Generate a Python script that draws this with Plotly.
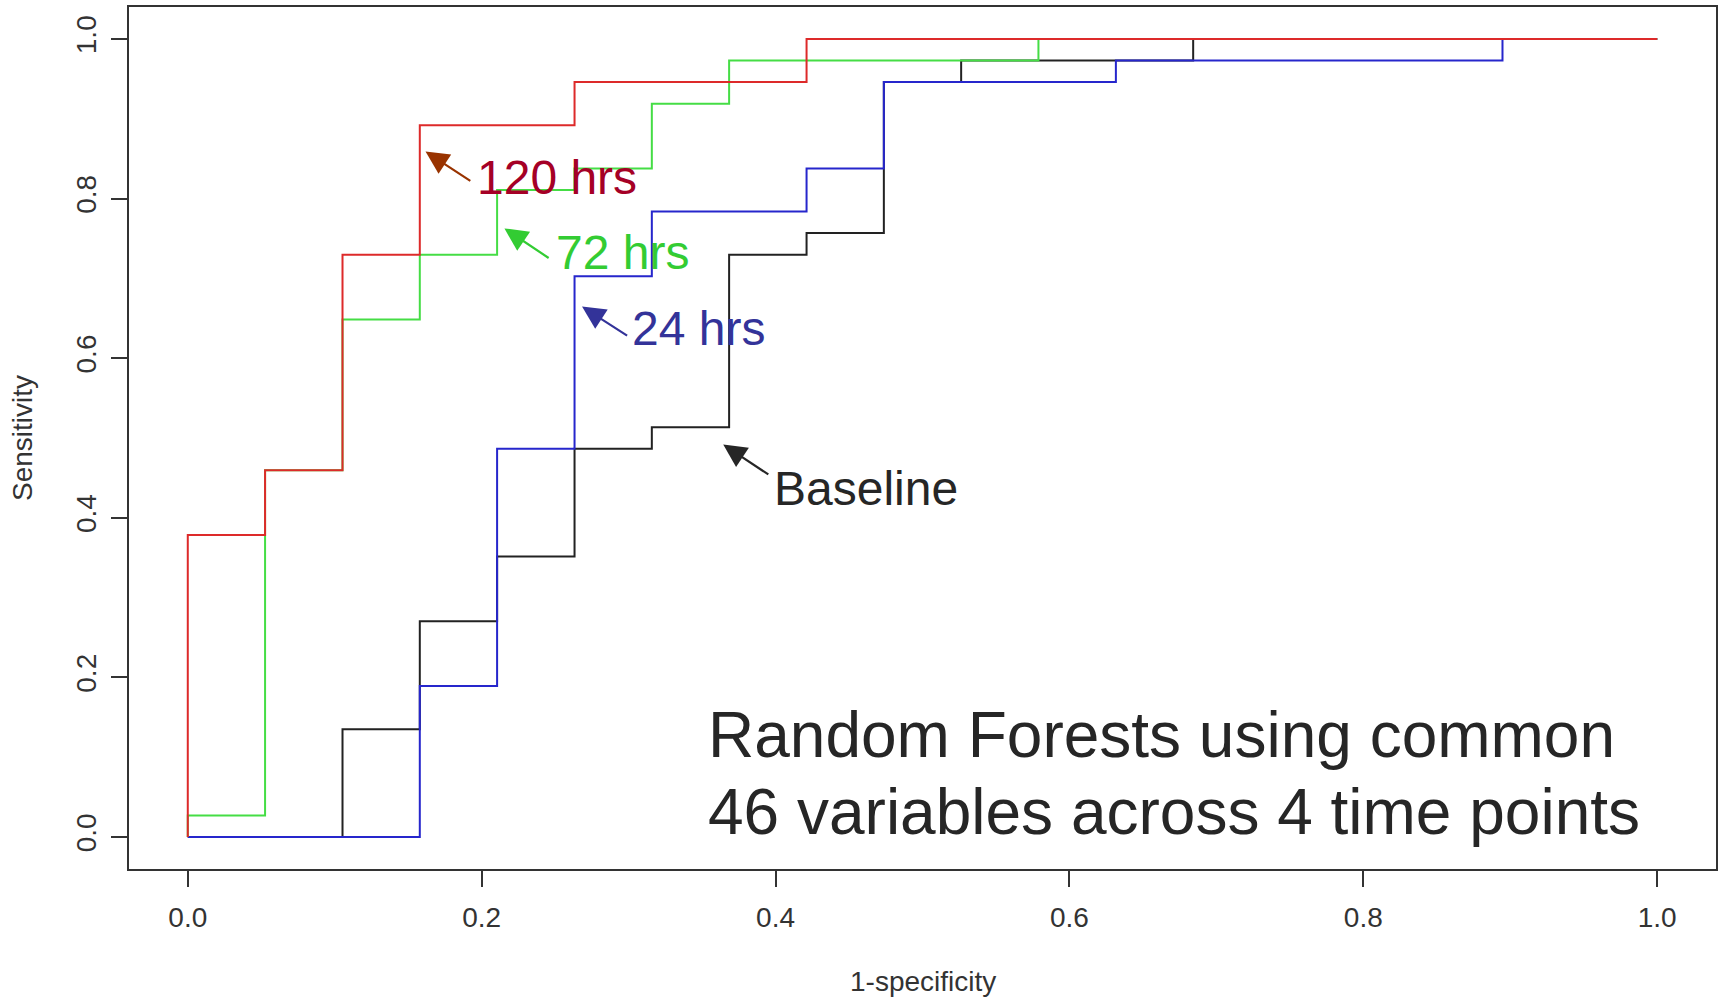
import plotly.graph_objects as go

# ROC step curves (1-specificity, sensitivity)
base_fpr = [0, 0.1053, 0.1579, 0.2105, 0.2632, 0.3158, 0.3684, 0.4211, 0.4737, 0.5263, 0.6842, 1.0]
base_tpr = [0, 0.1351, 0.2703, 0.3514, 0.4865, 0.5135, 0.7297, 0.7568, 0.9459, 0.9730, 1.0, 1.0]

h24_fpr = [0, 0.1579, 0.2105, 0.2632, 0.3158, 0.4211, 0.4737, 0.6316, 0.8947, 1.0]
h24_tpr = [0, 0.1892, 0.4865, 0.7027, 0.7838, 0.8378, 0.9459, 0.9730, 1.0, 1.0]

h72_fpr = [0, 0, 0.0526, 0.1053, 0.1579, 0.2105, 0.2632, 0.3158, 0.3684, 0.5789, 1.0]
h72_tpr = [0, 0.0270, 0.4595, 0.6486, 0.7297, 0.8108, 0.8378, 0.9189, 0.9730, 1.0, 1.0]

h120_fpr = [0, 0, 0.0526, 0.1053, 0.1579, 0.2632, 0.4211, 1.0]
h120_tpr = [0, 0.3784, 0.4595, 0.7297, 0.8919, 0.9459, 1.0, 1.0]

tick_vals = [0.0, 0.2, 0.4, 0.6, 0.8, 1.0]
tick_text = ["0.0", "0.2", "0.4", "0.6", "0.8", "1.0"]

series = [
    ("Baseline", base_fpr, base_tpr, "#222222"),
    ("24 hrs", h24_fpr, h24_tpr, "#2626cc"),
    ("72 hrs", h72_fpr, h72_tpr, "#45dd45"),
    ("120 hrs", h120_fpr, h120_tpr, "#dd2a2a"),
]

# label text, label anchor (x, y), arrow tip (x, y), arrow tail (x, y), text colour, arrow colour
labels = [
    ("120 hrs", 0.1955, 0.826, 0.1618, 0.8589, 0.1933, 0.821, "#a50026", "#993300"),
    ("72 hrs", 0.2495, 0.732, 0.2155, 0.7626, 0.2466, 0.7243, "#33cc33", "#33cc33"),
    ("24 hrs", 0.3010, 0.637, 0.2683, 0.6646, 0.3000, 0.6270, "#333399", "#333399"),
    ("Baseline", 0.3975, 0.4368, 0.3644, 0.4919, 0.3961, 0.4531, "#262626", "#262626"),
]

note_lines = ["Random Forests using common", "46 variables across 4 time points"]
note_x = 0.3525
note_y = [0.1277, 0.0313]

fig = go.Figure()
for name, xs, ys, col in series:
    fig.add_trace(go.Scatter(x=xs, y=ys, mode="lines", name=name,
                             line=dict(color=col, width=2, shape="hv"),
                             showlegend=False, hoverinfo="skip"))

font_main = "Liberation Sans, Arial, sans-serif"
font_ticks = "Liberation Sans Narrow, Liberation Sans, Arial, sans-serif"

annotations = []
for txt, tx, ty, hx, hy, sx, sy, tcol, acol in labels:
    annotations.append(dict(x=hx, y=hy, ax=sx, ay=sy, xref="x", yref="y",
                            axref="x", ayref="y", text="", showarrow=True,
                            arrowhead=2, arrowsize=2.1, arrowwidth=2.2,
                            arrowcolor=acol, standoff=0, startstandoff=0))
    annotations.append(dict(x=tx, y=ty, xref="x", yref="y", text=txt,
                            showarrow=False, xanchor="left", yanchor="middle",
                            font=dict(family=font_main, size=48, color=tcol)))

for line, yy in zip(note_lines, note_y):
    annotations.append(dict(x=note_x, y=yy, xref="x", yref="y", text=line,
                            showarrow=False, xanchor="left", yanchor="middle",
                            font=dict(family=font_main, size=64, color="#262626")))

annotations.append(dict(x=0.5, y=0, xref="paper", yref="paper", text="1-specificity",
                        showarrow=False, xanchor="center", yanchor="middle", yshift=-112,
                        font=dict(family=font_ticks, size=28, color="#333333")))
annotations.append(dict(x=0, y=0.5, xref="paper", yref="paper", text="Sensitivity",
                        showarrow=False, xanchor="center", yanchor="middle", xshift=-107,
                        textangle=-90,
                        font=dict(family=font_ticks, size=28, color="#333333")))

axis_common = dict(range=[-0.04, 1.04], showgrid=False, zeroline=False,
                   showline=True, linecolor="#333333", linewidth=2, mirror=True,
                   ticks="outside", ticklen=16, tickwidth=2, tickcolor="#333333",
                   tickvals=tick_vals, ticktext=tick_text,
                   tickfont=dict(family=font_ticks, size=28, color="#333333"))

fig.update_layout(
    width=1723, height=999,
    margin=dict(l=129, r=5, t=6, b=130),
    paper_bgcolor="white", plot_bgcolor="white",
    xaxis=dict(**axis_common, ticklabelstandoff=6),
    yaxis=dict(**axis_common, tickangle=-90, ticklabelstandoff=4),
    annotations=annotations,
)

fig.write_html("out.html")
